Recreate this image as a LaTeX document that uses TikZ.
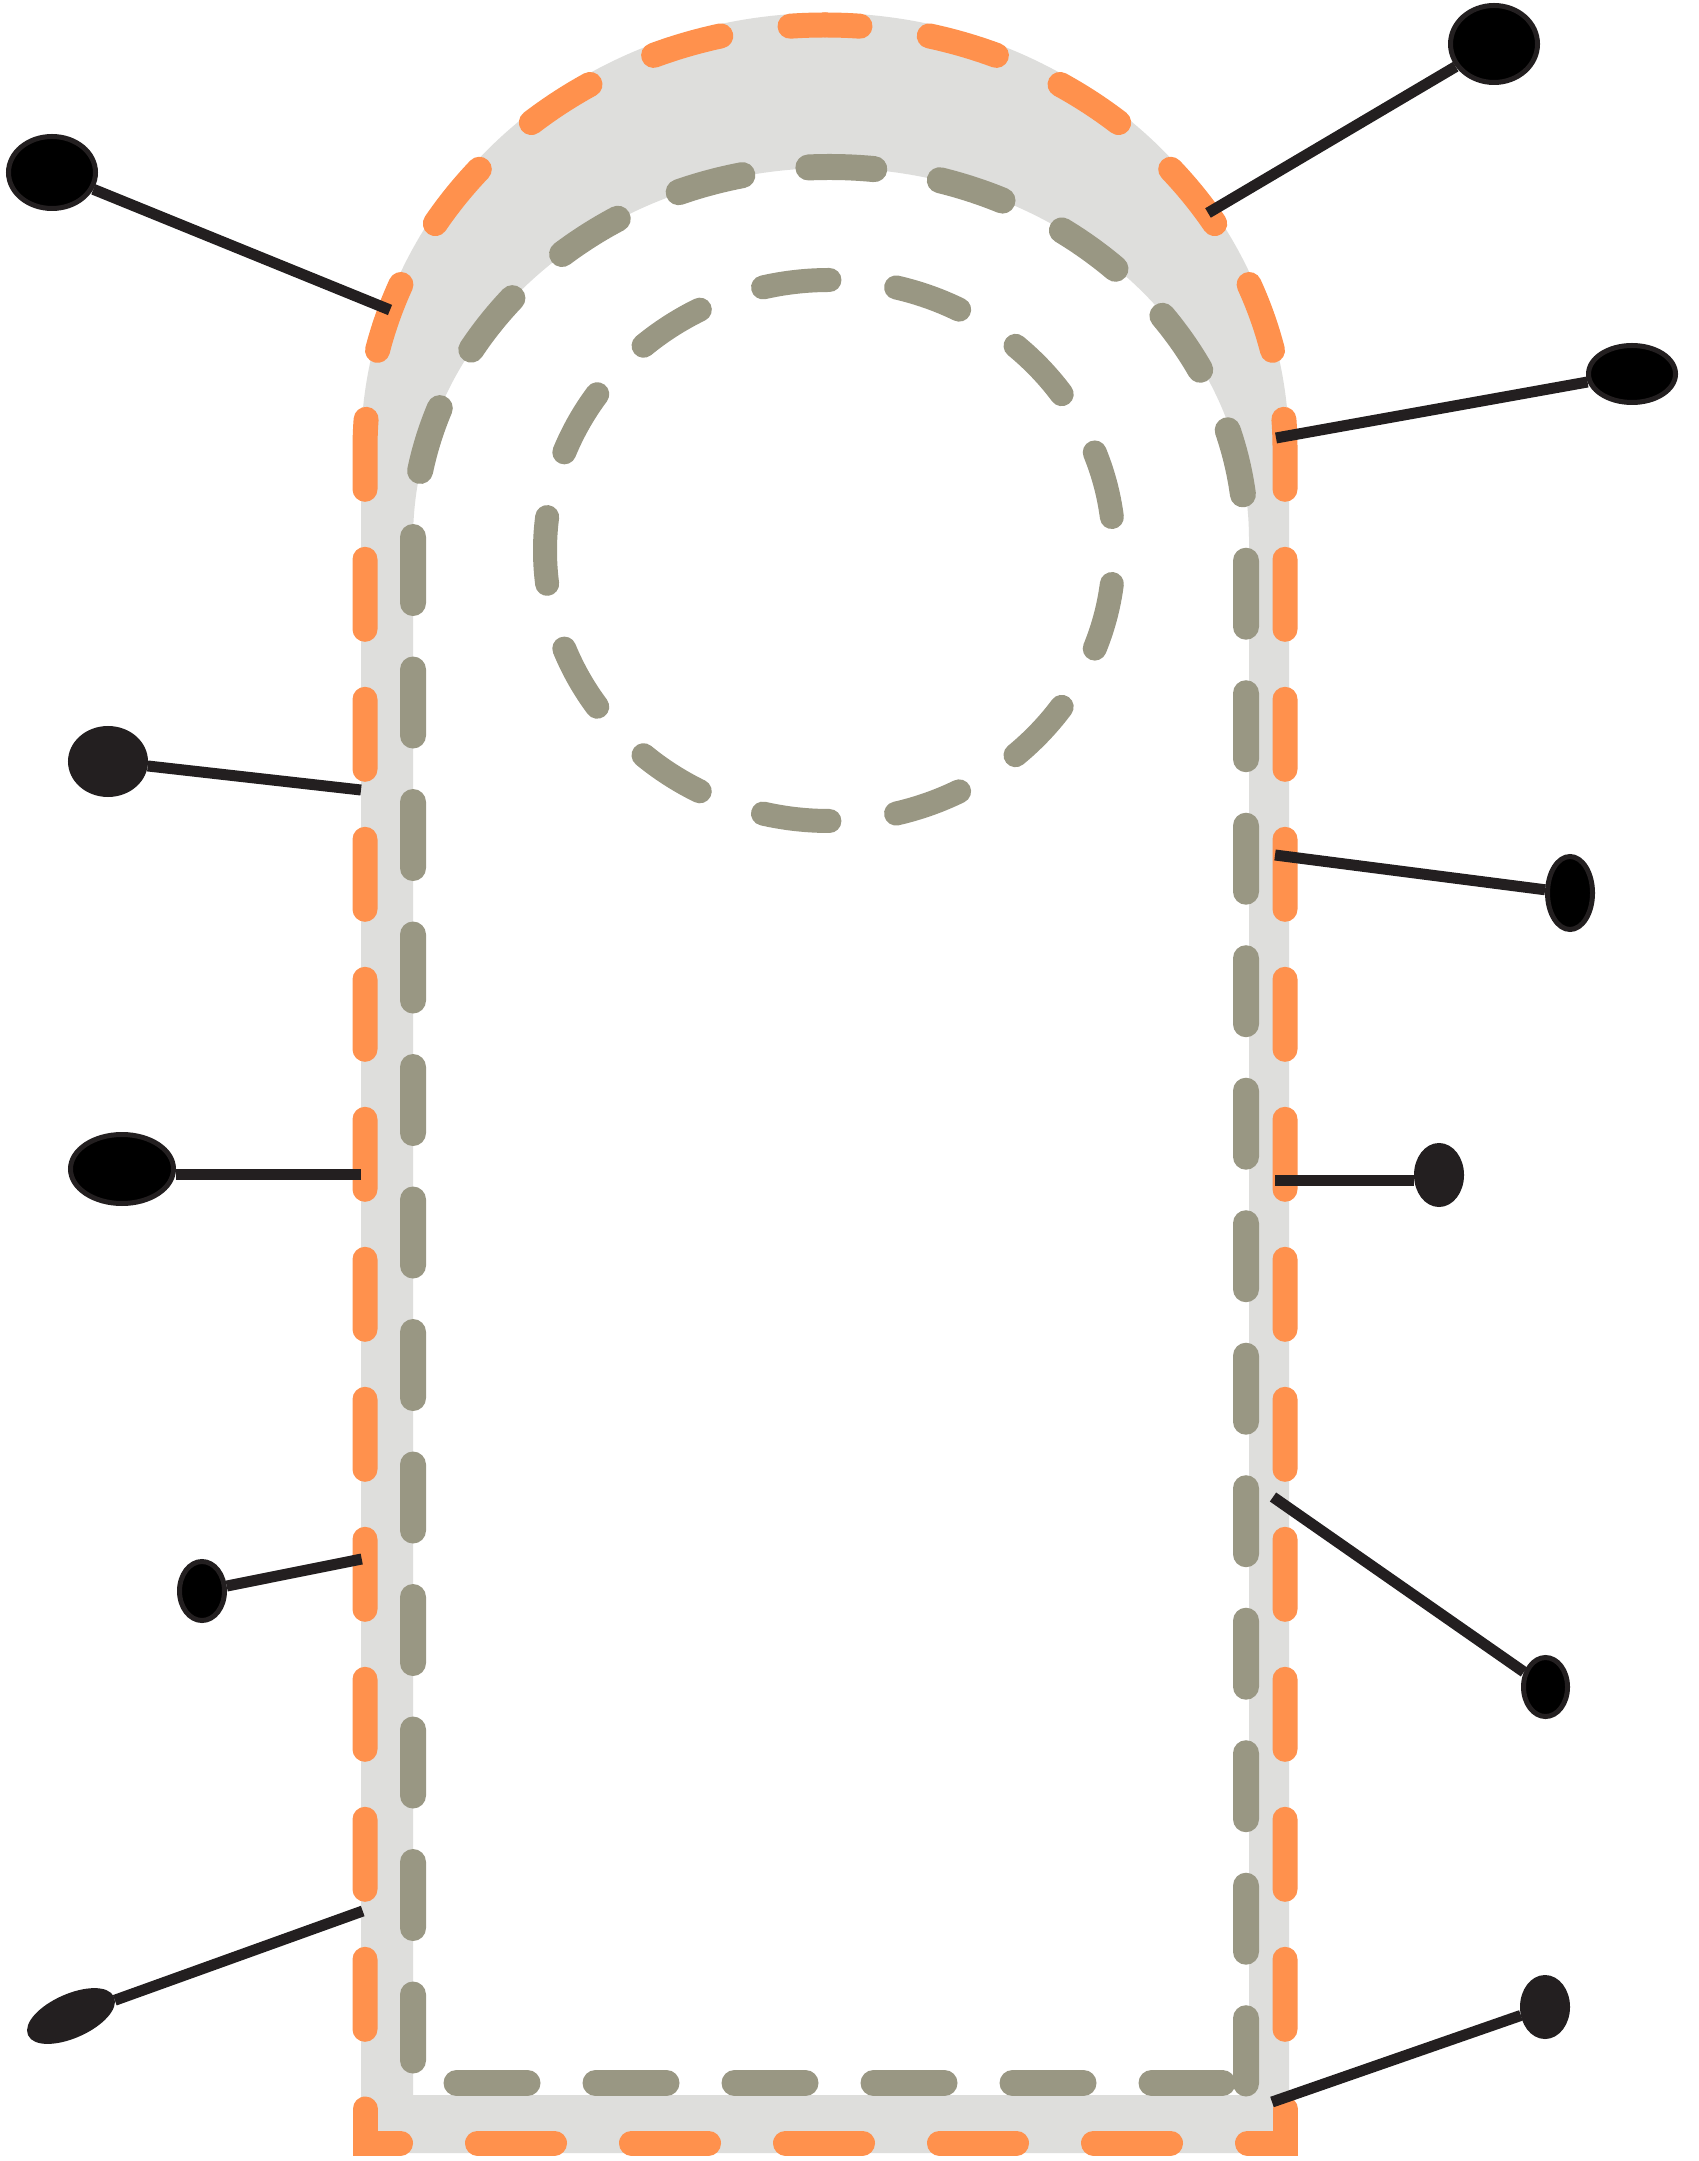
\documentclass[tikz,border=0pt]{standalone}
\usetikzlibrary{shapes.geometric}
\definecolor{band}{HTML}{DEDEDC}
\definecolor{orangeline}{HTML}{FF914D}
\definecolor{sage}{HTML}{999783}
\definecolor{ink}{HTML}{231F20}
\begin{document}
\begin{tikzpicture}[x=0.3pt,y=-0.3pt,
  orangedash/.style={draw=orangeline, line width=7.5pt, line cap=round, line join=round},
  sagedash/.style={draw=sage, line width=7.8pt, line cap=round, line join=round},
  pinline/.style={draw=ink, line width=3.3pt},
  dot/.style={ellipse, draw=ink, line width=1.5pt, fill=black, inner sep=0pt},
  darkdot/.style={dot, fill=ink}]
\useasboundingbox (0,0) rectangle (1698,2161);
\fill[white] (0,0) rectangle (1698,2161);

% grey band
\fill[band, even odd rule]
  (361,2153) -- (361,449) arc[start angle=180,end angle=360,x radius=464,y radius=436] -- (1289,2153) -- cycle
  (413,2095) -- (413,540) arc[start angle=180,end angle=360,x radius=418,y radius=372] -- (1249,2095) -- cycle;

% orange outer dashed line
\draw[orangedash, dash pattern=on 21pt off 21pt, dash phase=10.5pt]
  (825,25) arc[start angle=270,end angle=180,x radius=460,y radius=424] -- (365,2085);
\draw[orangedash, dash pattern=on 21pt off 21pt, dash phase=10.5pt]
  (825,25) arc[start angle=270,end angle=360,x radius=460,y radius=424] -- (1285,2085);
\draw[orangedash, line join=miter, dash pattern=on 23.1pt off 23.1pt, dash phase=2.25pt]
  (365,2109) -- (365,2143) -- (1285,2143) -- (1285,2109);

% sage inner dashed line
\draw[sagedash, dash pattern=on 19.8pt off 19.95pt]
  (413,2060.5) -- (413,540) arc[start angle=180,end angle=360,x radius=416.5,y radius=373] -- (1246,2083.5);
\draw[sagedash, dash pattern=on 21.3pt off 20.4pt]
  (456.5,2083) -- (1222.5,2083);

% inner dashed circle
\draw[draw=sage, line width=7.2pt, line cap=round, dash pattern=on 20.1pt off 20.15pt, dash phase=10.05pt]
  (545,550.5) arc[start angle=180,end angle=540,x radius=284.5,y radius=270.5];

% pins
\node[dot, minimum width=26.1pt, minimum height=21.6pt] (d1) at (52,172.5) {};
\node[dot, minimum width=26.1pt, minimum height=23.1pt] (d2) at (1494,44) {};
\node[dot, minimum width=26.1pt, minimum height=17.1pt] (d3) at (1632,374) {};
\node[darkdot, minimum width=22.5pt, minimum height=19.8pt] (d4) at (108,761.5) {};
\node[dot, minimum width=13.5pt, minimum height=21.9pt] (d5) at (1570,893) {};
\node[dot, minimum width=30.9pt, minimum height=20.7pt] (d6) at (122,1169) {};
\node[darkdot, minimum width=13.5pt, minimum height=17.7pt] (d7) at (1439,1175) {};
\node[dot, minimum width=13.5pt, minimum height=17.7pt] (d8) at (202,1591) {};
\node[dot, minimum width=13.2pt, minimum height=17.7pt] (d9) at (1545.5,1687) {};
\node[darkdot, rotate=24, minimum width=26.7pt, minimum height=11.7pt] (d10) at (71,2016) {};
\node[darkdot, minimum width=13.5pt, minimum height=17.7pt] (d11) at (1545,2007) {};

\coordinate (e1) at (390,310);
\coordinate (e2) at (1208,213);
\coordinate (e3) at (1276,438);
\coordinate (e4) at (361,790);
\coordinate (e5) at (1275,855);
\coordinate (e6) at (361,1174.5);
\coordinate (e7) at (1275,1180);
\coordinate (e8) at (361.7,1559);
\coordinate (e9) at (1273,1497);
\coordinate (e10) at (362.7,1911);
\coordinate (e11) at (1272,2102);

\draw[pinline] (e1) -- (d1);
\draw[pinline] (e2) -- (d2);
\draw[pinline] (e3) -- (d3);
\draw[pinline] (e4) -- (d4);
\draw[pinline] (e5) -- (d5);
\draw[pinline] (e6) -- (e6 -| d6.east);
\draw[pinline] (e7) -- (e7 -| d7.west);
\draw[pinline] (e8) -- (d8);
\draw[pinline] (e9) -- (d9);
\draw[pinline] (e10) -- (d10);
\draw[pinline] (e11) -- (d11);
\end{tikzpicture}
\end{document}
